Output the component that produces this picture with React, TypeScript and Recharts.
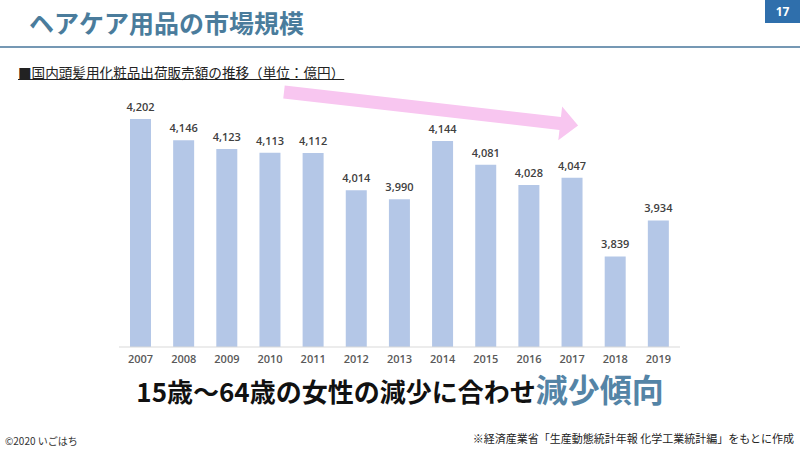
import { Bar, BarChart, XAxis, YAxis, LabelList } from "recharts"

// 国内頭髪用化粧品出荷販売額（億円）
const years = ["2007", "2008", "2009", "2010", "2011", "2012", "2013", "2014", "2015", "2016", "2017", "2018", "2019"]
const sales = [4202, 4146, 4123, 4113, 4112, 4014, 3990, 4144, 4081, 4028, 4047, 3839, 3934]

const chartData = years.map((year, i) => ({ year, sales: sales[i] }))

const JP = '"Noto Sans CJK JP", "Noto Sans", sans-serif'
const NUM = '"Open Sans", "Noto Sans", sans-serif'

export default function App() {
  return (
    <div style={{ position: "absolute", left: 0, top: 0, width: 800, height: 450, background: "#fff", overflow: "hidden", fontFamily: JP }}>
      {/* header */}
      <div style={{ position: "absolute", left: 29, top: 10, fontSize: 25, lineHeight: "25px", fontWeight: 700, color: "#4A7C9C", whiteSpace: "nowrap" }}>
        ヘアケア用品の市場規模
      </div>
      <div style={{ position: "absolute", left: 0, top: 46, width: 800, height: 2, background: "#7598B4" }} />
      <div style={{ position: "absolute", left: 765, top: 0, width: 35, height: 23, background: "#2F6FAC", color: "#fff", fontFamily: NUM, fontWeight: 700, fontSize: 12, lineHeight: "23px", textAlign: "center" }}>
        17
      </div>
      <div style={{ position: "absolute", left: 18, top: 64, fontSize: 13.6, lineHeight: "16px", color: "#222", textDecoration: "underline", whiteSpace: "nowrap" }}>
        ■国内頭髪用化粧品出荷販売額の推移（単位：億円）
      </div>

      <div style={{ position: "absolute", left: 0, top: 0 }}>
        <BarChart width={800} height={450} data={chartData} margin={{ top: 44, right: 120, left: 119, bottom: 83 }}>
          <XAxis
            dataKey="year"
            height={20}
            axisLine={{ stroke: "#D9D9D9" }}
            tickLine={false}
            tickMargin={2}
            tick={{ fontSize: 11, fill: "#595959", fontFamily: NUM, fontWeight: 600 }}
            interval={0}
          />
          <YAxis hide domain={[3600, 4400]} allowDataOverflow />
          <Bar dataKey="sales" fill="#B4C7E7" barSize={21} isAnimationActive={false}>
            <LabelList
              dataKey="sales"
              position="top"
              offset={8}
              formatter={(v: any) => Number(v).toLocaleString("en-US")}
              style={{ fontSize: 11, fill: "#404040", fontFamily: NUM, fontWeight: 600 }}
            />
          </Bar>
        </BarChart>
      </div>

      {/* decorative trend arrow */}
      <svg width={800} height={450} style={{ position: "absolute", left: 0, top: 0, pointerEvents: "none" }}>
        <polygon
          points="0,-6.5 278,-6.5 278,-17 296,0 278,17 278,6.5 0,6.5"
          transform="translate(284,92) rotate(6.5)"
          fill="#F8C6F0"
        />
      </svg>

      {/* caption */}
      <div style={{ position: "absolute", left: 0, top: 372, width: 800, display: "flex", justifyContent: "center", alignItems: "baseline", fontWeight: 700, whiteSpace: "nowrap" }}>
        <span style={{ display: "inline-block", fontSize: 26, lineHeight: "26px", color: "#111" }}>15歳～64歳の女性の減少に合わせ</span>
        <span style={{ display: "inline-block", fontSize: 32, lineHeight: "32px", color: "#5484A6" }}>減少傾向</span>
      </div>

      {/* footer */}
      <div style={{ position: "absolute", left: 5, top: 434, fontSize: 10, lineHeight: "14px", color: "#333", whiteSpace: "nowrap" }}>
        ©2020 いごはち
      </div>
      <div style={{ position: "absolute", right: 6, top: 431, fontSize: 11, lineHeight: "14px", color: "#222", whiteSpace: "nowrap" }}>
        ※経済産業省「生産動態統計年報 化学工業統計編」をもとに作成
      </div>
    </div>
  )
}
